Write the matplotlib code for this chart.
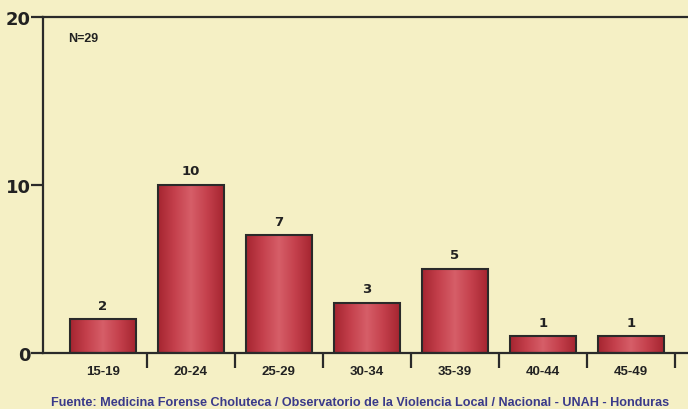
import matplotlib
matplotlib.use("Agg")
import matplotlib.pyplot as plt
import numpy as np
from matplotlib.colors import LinearSegmentedColormap

categories = ["15-19", "20-24", "25-29", "30-34", "35-39", "40-44", "45-49"]
values = [2, 10, 7, 3, 5, 1, 1]
y_ticks = [0, 10, 20]
n_label = "N=29"
source = "Fuente: Medicina Forense Choluteca / Observatorio de la Violencia Local / Nacional - UNAH - Honduras"

bg = "#F5F0C5"
fig = plt.figure(figsize=(6.88, 4.10), dpi=100, facecolor=bg)
ax = fig.add_axes([43/688, (410-354)/410, 1 - 43/688, (354-18)/410])
ax.set_facecolor(bg)

x = np.arange(len(categories))
width = 0.75
cmap = LinearSegmentedColormap.from_list("bar", ["#A52530", "#C4404C", "#D65E68", "#C4404C", "#A52530"])
grad = np.linspace(0, 1, 256).reshape(1, -1)

bars = ax.bar(x, values, width=width, color="none", edgecolor="#2a2a2a", linewidth=1.5, zorder=3)
for b in bars:
    x0, y0 = b.get_x(), b.get_y()
    w, h = b.get_width(), b.get_height()
    im = ax.imshow(grad, cmap=cmap, aspect="auto", extent=[x0, x0 + w, y0, y0 + h], zorder=2)
    im.set_clip_path(b)
    ax.text(x0 + w / 2, h + 0.45, str(int(h)), ha="center", va="bottom",
            fontsize=9.5, fontweight="bold", color="#222222", family="DejaVu Sans")

ax.set_xlim(-0.68, 6.65)
ax.set_ylim(0, 20)

for s in ["left", "top", "bottom"]:
    ax.spines[s].set_linewidth(1.6)
    ax.spines[s].set_color("#2a2a2a")
ax.spines["right"].set_visible(False)

ax.set_yticks(y_ticks)
ax.set_yticklabels([str(t) for t in y_ticks], fontsize=13, fontweight="bold", family="DejaVu Sans", color="#222222")
ax.tick_params(axis="y", length=9, width=1.6, color="#2a2a2a", pad=0)

ax.set_xticks(x)
ax.set_xticklabels(categories, fontsize=9.5, fontweight="bold", family="Liberation Sans", color="#222222")
ax.tick_params(axis="x", length=0, pad=9)
ax.set_xticks(np.arange(len(categories)) + 0.5, minor=True)
ax.tick_params(axis="x", which="minor", length=11, width=1.6, color="#2a2a2a", direction="out")

ax.text(68/688, 1 - 39/410, n_label, transform=fig.transFigure, fontsize=9, fontweight="bold",
        family="Liberation Sans", color="#222222", va="center", ha="left")
fig.text(360/688, 1 - 403/410, source, fontsize=9.1, fontweight="bold", family="Liberation Sans",
         color="#3A3A8A", ha="center", va="center")

fig.savefig("out.png", dpi=100, facecolor=bg)
